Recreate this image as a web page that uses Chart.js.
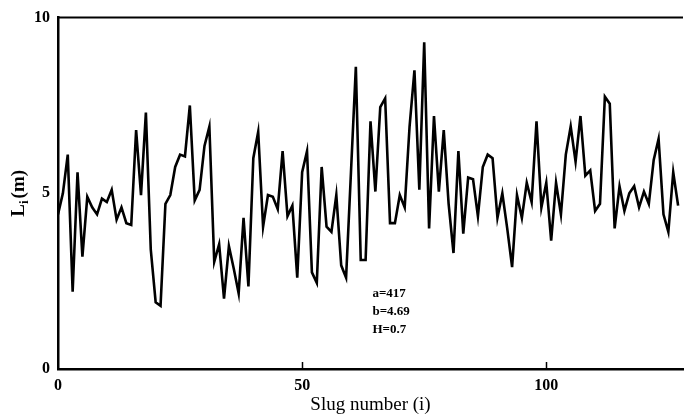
<!DOCTYPE html>
<html>
<head>
<meta charset="utf-8">
<script src="https://cdn.jsdelivr.net/npm/chart.js@4.4.1/dist/chart.umd.min.js"></script>
<style>
  html, body { margin: 0; padding: 0; background: #fff; }
  #wrap { width: 685px; height: 420px; }
</style>
</head>
<body>
<div id="wrap"><canvas id="slugChart" width="685" height="420"></canvas></div>
<script>
// slug length L_i (m) for slug number i = 0..127
const slugLengths = [
  4.4, 5.0, 6.1, 2.2, 5.6, 3.2, 4.9, 4.6, 4.4, 4.85,
  4.75, 5.1, 4.25, 4.6, 4.15, 4.1, 6.8, 4.95, 7.3, 3.4,
  1.9, 1.8, 4.7, 4.95, 5.75, 6.1, 6.05, 7.5, 4.8, 5.1,
  6.35, 6.9, 3.05, 3.55, 2.0, 3.5, 2.85, 2.15, 4.3, 2.35,
  6.0, 6.75, 4.05, 4.95, 4.9, 4.55, 6.2, 4.35, 4.65, 2.6,
  5.6, 6.2, 2.75, 2.45, 5.75, 4.05, 3.9, 4.95, 2.95, 2.6,
  5.6, 8.6, 3.1, 3.1, 7.05, 5.05, 7.45, 7.7, 4.15, 4.15,
  4.95, 4.6, 6.9, 8.5, 5.1, 9.3, 4.0, 7.2, 5.05, 6.8,
  4.7, 3.3, 6.2, 3.85, 5.45, 5.4, 4.35, 5.75, 6.1, 6.0,
  4.3, 5.0, 4.0, 2.9, 4.95, 4.3, 5.3, 4.75, 7.05, 4.6,
  5.3, 3.65, 5.3, 4.4, 6.1, 6.9, 5.9, 7.2, 5.5, 5.65,
  4.5, 4.7, 7.75, 7.55, 4.0, 5.2, 4.5, 5.0, 5.2, 4.6,
  5.05, 4.7, 5.95, 6.55, 4.4, 3.9, 5.6, 4.65
];
const xTicks = [0, 50, 100];
const yTicks = [0, 5, 10];
const noteLines = ["a=417", "b=4.69", "H=0.7"];
const noteAnchor = { x: 64.4, y: [2.15, 1.64, 1.13] };

const SERIF = "'Liberation Serif', 'DejaVu Serif', serif";

const points = slugLengths.map((v, i) => ({ x: i, y: v }));

// top frame line, inward x ticks, y title with subscript, notes
const extras = {
  id: "extras",
  afterDraw(chart) {
    const { ctx, chartArea, scales } = chart;
    ctx.save();
    ctx.strokeStyle = "#000";
    ctx.lineWidth = 2;
    ctx.beginPath();
    ctx.moveTo(chartArea.left - 1, chartArea.top);
    ctx.lineTo(chartArea.right, chartArea.top);
    ctx.stroke();

    ctx.lineWidth = 1.5;
    xTicks.forEach(v => {
      if (v === 0) return;
      const px = Math.round(scales.x.getPixelForValue(v)) + 0.5;
      ctx.beginPath();
      ctx.moveTo(px, chartArea.bottom);
      ctx.lineTo(px, chartArea.bottom - 7);
      ctx.stroke();
    });

    // y axis title: L_i (m)
    ctx.fillStyle = "#000";
    ctx.translate(19, (chartArea.top + chartArea.bottom) / 2);
    ctx.rotate(-Math.PI / 2);
    const big = "bold 19px " + SERIF, small = "bold 13px " + SERIF;
    ctx.font = big;
    const wL = ctx.measureText("L").width;
    const wM = ctx.measureText("(m)").width;
    ctx.font = small;
    const wI = ctx.measureText("i").width;
    const total = wL + wI + 2 + wM;
    let x0 = -total / 2;
    ctx.textBaseline = "middle";
    ctx.textAlign = "left";
    ctx.font = big;
    ctx.fillText("L", x0, 0);
    ctx.font = small;
    ctx.fillText("i", x0 + wL, 6);
    ctx.font = big;
    ctx.fillText("(m)", x0 + wL + wI + 2, 0);
    ctx.restore();

    ctx.save();
    ctx.fillStyle = "#000";
    ctx.font = "bold 13px " + SERIF;
    ctx.textAlign = "left";
    ctx.textBaseline = "middle";
    noteLines.forEach((t, k) => {
      ctx.fillText(t, scales.x.getPixelForValue(noteAnchor.x), scales.y.getPixelForValue(noteAnchor.y[k]));
    });
    ctx.restore();
  }
};

new Chart(document.getElementById("slugChart"), {
  type: "line",
  data: {
    datasets: [{
      data: points,
      borderColor: "#000",
      borderWidth: 2.6,
      pointRadius: 0,
      tension: 0,
      fill: false
    }]
  },
  options: {
    responsive: false,
    animation: false,
    layout: { padding: { top: 16, right: 2, left: 0, bottom: 0 } },
    plugins: { legend: { display: false }, tooltip: { enabled: false } },
    scales: {
      x: {
        type: "linear",
        min: 0,
        max: 128,
        afterBuildTicks: s => { s.ticks = xTicks.map(v => ({ value: v })); },
        afterFit: s => { s.height = 51; },
        grid: { display: false, drawTicks: false },
        border: { display: true, color: "#000", width: 2.5 },
        ticks: { color: "#000", padding: 7, maxRotation: 0, font: { family: SERIF, size: 16, weight: "bold" } },
        title: { display: true, text: "Slug number (i)", color: "#000", padding: { top: 0, bottom: 4 }, font: { family: SERIF, size: 19 } }
      },
      y: {
        min: 0,
        max: 10,
        afterBuildTicks: s => { s.ticks = yTicks.map(v => ({ value: v })); },
        afterFit: s => { s.width = 58; },
        grid: { display: false, drawTicks: false },
        border: { display: true, color: "#000", width: 2.5 },
        ticks: { color: "#000", padding: 8, font: { family: SERIF, size: 16, weight: "bold" } }
      }
    }
  },
  plugins: [extras]
});
</script>
</body>
</html>
